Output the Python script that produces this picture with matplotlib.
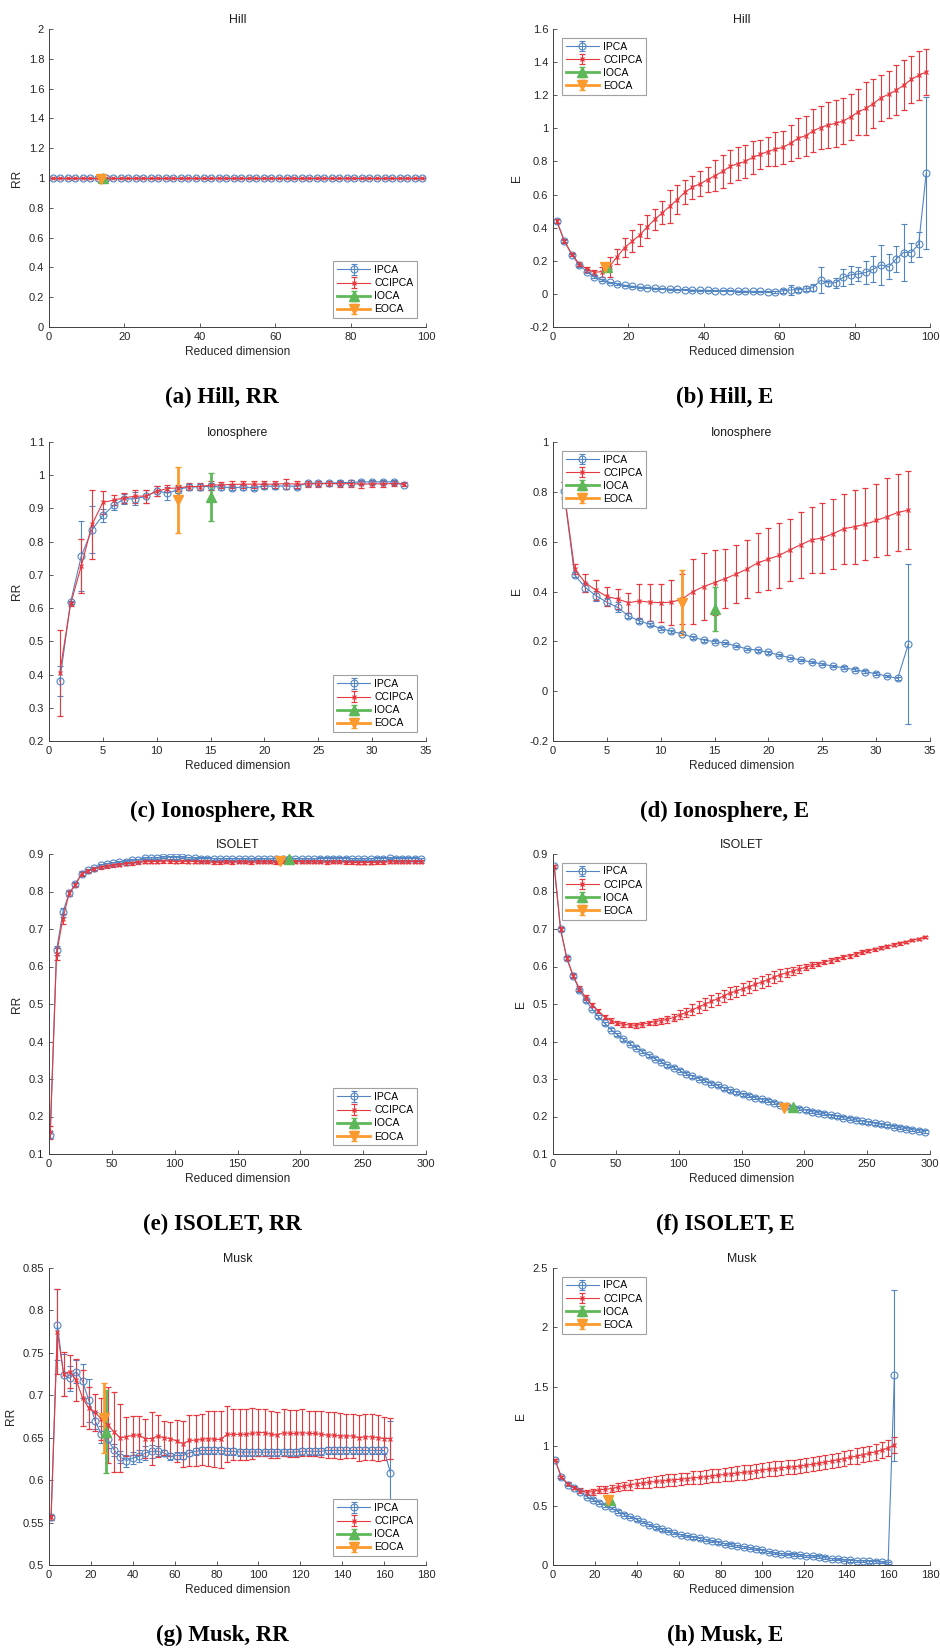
import numpy as np
import matplotlib
matplotlib.use("Agg")
import matplotlib.pyplot as plt
from matplotlib.ticker import FuncFormatter

# ========== Data ==========
# Hill (reduced dimension 1, 3, ..., 99)
hill_x = list(range(1, 100, 2))
hill_rr_ipca = [1.0] * 50
hill_rr_ccipca = [1.0] * 50
hill_rr_err = [0.0] * 50
hill_e_ipca = [0.44, 0.32, 0.235, 0.173, 0.135, 0.104, 0.083, 0.07, 0.06, 0.052,
               0.046, 0.041, 0.037, 0.034, 0.031, 0.029, 0.027, 0.025, 0.023, 0.022,
               0.021, 0.02, 0.019, 0.018, 0.017, 0.016, 0.015, 0.015, 0.014, 0.014,
               0.018, 0.024, 0.025, 0.03, 0.038, 0.083, 0.065, 0.068, 0.1, 0.115,
               0.12, 0.13, 0.15, 0.175, 0.163, 0.21, 0.25, 0.25, 0.3, 0.73]
hill_e_ipca_err = [0.01, 0.008, 0.008, 0.008, 0.008, 0.006, 0.005, 0.004, 0.004, 0.003,
                   0.003, 0.003, 0.003, 0.003, 0.003, 0.003, 0.003, 0.003, 0.003, 0.003,
                   0.003, 0.003, 0.003, 0.003, 0.003, 0.003, 0.003, 0.003, 0.005, 0.006,
                   0.012, 0.03, 0.012, 0.015, 0.02, 0.08, 0.015, 0.03, 0.05, 0.055,
                   0.04, 0.07, 0.08, 0.12, 0.075, 0.08, 0.17, 0.06, 0.075, 0.46]
hill_e_ccipca = [0.44, 0.32, 0.24, 0.18, 0.15, 0.13, 0.135, 0.165, 0.225, 0.28,
                 0.318, 0.355, 0.405, 0.45, 0.49, 0.53, 0.57, 0.615, 0.645, 0.665,
                 0.69, 0.715, 0.74, 0.77, 0.787, 0.8, 0.825, 0.842, 0.86, 0.875,
                 0.885, 0.91, 0.94, 0.955, 0.985, 1.005, 1.02, 1.03, 1.045, 1.07,
                 1.1, 1.12, 1.15, 1.185, 1.205, 1.23, 1.26, 1.295, 1.32, 1.34]
hill_e_ccipca_err = [0.01, 0.01, 0.01, 0.01, 0.015, 0.015, 0.03, 0.06, 0.045, 0.06,
                     0.065, 0.065, 0.07, 0.065, 0.07, 0.1, 0.085, 0.07, 0.07, 0.075,
                     0.075, 0.095, 0.1, 0.1, 0.1, 0.1, 0.1, 0.09, 0.09, 0.1,
                     0.1, 0.11, 0.12, 0.12, 0.13, 0.13, 0.14, 0.14, 0.14, 0.14,
                     0.14, 0.16, 0.15, 0.14, 0.14, 0.15, 0.15, 0.14, 0.15, 0.14]
hill_ioca = (14.4, 1.0, 0.0, 0.16, 0.02)    # x, RR, RR err, E, E err
hill_eoca = (13.9, 0.995, 0.0, 0.16, 0.02)

# Ionosphere (1..33)
ion_x = list(range(1, 34))
ion_rr_ipca = [0.38, 0.617, 0.757, 0.836, 0.879, 0.909, 0.929, 0.929, 0.936, 0.953, 0.946,
               0.957, 0.965, 0.965, 0.967, 0.964, 0.963, 0.964, 0.963, 0.967, 0.967, 0.968,
               0.966, 0.976, 0.976, 0.976, 0.978, 0.978, 0.98, 0.98, 0.98, 0.98, 0.972]
ion_rr_ipca_err = [0.045, 0.005, 0.105, 0.07, 0.02, 0.015, 0.015, 0.02, 0.02, 0.015, 0.02,
                   0.012, 0.01, 0.008, 0.01, 0.008, 0.008, 0.008, 0.008, 0.008, 0.008, 0.008,
                   0.008, 0.008, 0.008, 0.008, 0.008, 0.008, 0.005, 0.005, 0.005, 0.005, 0.005]
ion_rr_ccipca = [0.405, 0.612, 0.727, 0.852, 0.918, 0.925, 0.932, 0.937, 0.937, 0.952, 0.96,
                 0.962, 0.966, 0.966, 0.97, 0.971, 0.972, 0.973, 0.973, 0.973, 0.973, 0.975,
                 0.973, 0.974, 0.974, 0.975, 0.974, 0.975, 0.973, 0.974, 0.974, 0.975, 0.973]
ion_rr_ccipca_err = [0.13, 0.005, 0.082, 0.105, 0.035, 0.015, 0.015, 0.02, 0.02, 0.015, 0.01,
                     0.01, 0.01, 0.01, 0.013, 0.01, 0.01, 0.01, 0.01, 0.01, 0.01, 0.015,
                     0.01, 0.008, 0.008, 0.008, 0.01, 0.01, 0.01, 0.008, 0.008, 0.008, 0.006]
ion_e_ipca = [0.805, 0.467, 0.416, 0.383, 0.357, 0.336, 0.302, 0.282, 0.268, 0.251, 0.24,
              0.23, 0.216, 0.205, 0.199, 0.193, 0.181, 0.17, 0.164, 0.156, 0.145, 0.134,
              0.125, 0.117, 0.109, 0.1, 0.094, 0.086, 0.078, 0.07, 0.06, 0.051, 0.19]
ion_e_ipca_err = [0.035, 0.01, 0.02, 0.02, 0.015, 0.02, 0.01, 0.008, 0.006, 0.006, 0.006,
                  0.006, 0.006, 0.006, 0.006, 0.005, 0.005, 0.005, 0.005, 0.005, 0.005, 0.005,
                  0.005, 0.005, 0.005, 0.005, 0.005, 0.005, 0.005, 0.005, 0.005, 0.005, 0.32]
ion_e_ccipca = [0.81, 0.49, 0.435, 0.405, 0.38, 0.37, 0.355, 0.362, 0.357, 0.355, 0.357,
                0.37, 0.4, 0.42, 0.436, 0.452, 0.47, 0.49, 0.515, 0.53, 0.545, 0.567,
                0.588, 0.607, 0.615, 0.632, 0.652, 0.66, 0.67, 0.685, 0.7, 0.717, 0.727]
ion_e_ccipca_err = [0.03, 0.02, 0.035, 0.04, 0.04, 0.04, 0.04, 0.07, 0.075, 0.077, 0.09,
                    0.1, 0.13, 0.135, 0.13, 0.12, 0.115, 0.115, 0.118, 0.123, 0.13, 0.125,
                    0.133, 0.133, 0.14, 0.14, 0.14, 0.148, 0.145, 0.145, 0.155, 0.155, 0.157]
ion_ioca = (15, 0.935, 0.072, 0.33, 0.088)
ion_eoca = (12, 0.926, 0.1, 0.355, 0.13)

# ISOLET (1, 6, ..., 296)
iso_x = list(range(1, 300, 5))
iso_rr_ipca = [0.152, 0.643, 0.745, 0.795, 0.82, 0.848, 0.857, 0.862, 0.87, 0.874,
               0.877, 0.878, 0.88, 0.883, 0.885, 0.889, 0.89, 0.889, 0.892, 0.891,
               0.891, 0.892, 0.89, 0.889, 0.888, 0.888, 0.887, 0.887, 0.887, 0.887,
               0.887, 0.887, 0.887, 0.886, 0.887, 0.887, 0.887, 0.887, 0.887, 0.887,
               0.887, 0.887, 0.887, 0.888, 0.888, 0.888, 0.888, 0.888, 0.887, 0.887,
               0.887, 0.887, 0.888, 0.888, 0.889, 0.888, 0.888, 0.888, 0.888, 0.887]
iso_rr_ipca_err = [0.01, 0.012, 0.012, 0.006, 0.005, 0.004, 0.004, 0.004, 0.003, 0.003,
                   0.003, 0.003, 0.003, 0.003, 0.003, 0.003, 0.003, 0.003, 0.003, 0.003,
                   0.003, 0.003, 0.003, 0.003, 0.003, 0.003, 0.003, 0.003, 0.003, 0.003,
                   0.003, 0.003, 0.003, 0.003, 0.003, 0.003, 0.003, 0.003, 0.003, 0.003,
                   0.003, 0.003, 0.003, 0.003, 0.003, 0.003, 0.003, 0.003, 0.003, 0.003,
                   0.003, 0.003, 0.003, 0.003, 0.003, 0.003, 0.003, 0.003, 0.003, 0.003]
iso_rr_ccipca = [0.158, 0.633, 0.727, 0.795, 0.818, 0.848, 0.855, 0.86, 0.865, 0.867,
                 0.87, 0.872, 0.874, 0.876, 0.878, 0.879, 0.88, 0.88, 0.881, 0.881,
                 0.88, 0.881, 0.88, 0.88, 0.879, 0.879, 0.878, 0.878, 0.879, 0.878,
                 0.879, 0.879, 0.878, 0.879, 0.879, 0.879, 0.878, 0.88, 0.879, 0.879,
                 0.88, 0.879, 0.879, 0.879, 0.878, 0.879, 0.879, 0.878, 0.878, 0.877,
                 0.877, 0.877, 0.878, 0.878, 0.879, 0.879, 0.879, 0.879, 0.88, 0.88]
iso_rr_ccipca_err = [0.018, 0.016, 0.013, 0.008, 0.006, 0.006, 0.005, 0.005, 0.004, 0.004,
                     0.004, 0.004, 0.004, 0.004, 0.004, 0.004, 0.004, 0.004, 0.004, 0.004,
                     0.004, 0.004, 0.004, 0.004, 0.004, 0.004, 0.004, 0.004, 0.004, 0.004,
                     0.004, 0.004, 0.004, 0.004, 0.004, 0.004, 0.004, 0.004, 0.004, 0.004,
                     0.004, 0.004, 0.004, 0.004, 0.004, 0.004, 0.004, 0.004, 0.004, 0.004,
                     0.004, 0.004, 0.004, 0.004, 0.004, 0.004, 0.004, 0.004, 0.004, 0.004]
iso_e_ipca = [0.867, 0.7, 0.622, 0.575, 0.537, 0.51, 0.487, 0.467, 0.449, 0.432,
              0.419, 0.406, 0.394, 0.383, 0.373, 0.364, 0.354, 0.346, 0.337, 0.33,
              0.322, 0.314, 0.308, 0.301, 0.295, 0.288, 0.283, 0.276, 0.27, 0.265,
              0.259, 0.255, 0.25, 0.246, 0.242, 0.237, 0.232, 0.228, 0.224, 0.221,
              0.217, 0.213, 0.21, 0.207, 0.203, 0.201, 0.197, 0.194, 0.191, 0.188,
              0.185, 0.182, 0.179, 0.177, 0.173, 0.17, 0.168, 0.165, 0.162, 0.16]
iso_e_ipca_err = [0.004, 0.004, 0.004, 0.004, 0.004, 0.004, 0.004, 0.004, 0.004, 0.004,
                  0.004, 0.004, 0.004, 0.004, 0.004, 0.004, 0.004, 0.004, 0.004, 0.004,
                  0.004, 0.004, 0.004, 0.004, 0.004, 0.004, 0.004, 0.004, 0.004, 0.004,
                  0.004, 0.004, 0.004, 0.004, 0.004, 0.004, 0.004, 0.004, 0.004, 0.004,
                  0.004, 0.004, 0.004, 0.004, 0.004, 0.004, 0.004, 0.004, 0.004, 0.004,
                  0.004, 0.004, 0.004, 0.004, 0.004, 0.004, 0.004, 0.004, 0.004, 0.004]
iso_e_ccipca = [0.867, 0.7, 0.622, 0.576, 0.541, 0.518, 0.497, 0.481, 0.466, 0.456,
                0.449, 0.446, 0.444, 0.443, 0.446, 0.449, 0.453, 0.456, 0.459, 0.464,
                0.471, 0.477, 0.485, 0.492, 0.5, 0.507, 0.514, 0.522, 0.53, 0.534,
                0.541, 0.546, 0.553, 0.558, 0.565, 0.572, 0.578, 0.583, 0.588, 0.593,
                0.598, 0.603, 0.607, 0.612, 0.616, 0.621, 0.625, 0.629, 0.634, 0.638,
                0.642, 0.646, 0.65, 0.654, 0.658, 0.662, 0.666, 0.67, 0.674, 0.678]
iso_e_ccipca_err = [0.004, 0.005, 0.005, 0.006, 0.006, 0.006, 0.006, 0.006, 0.006, 0.006,
                    0.006, 0.006, 0.006, 0.006, 0.006, 0.006, 0.008, 0.008, 0.01, 0.01,
                    0.012, 0.012, 0.014, 0.015, 0.015, 0.016, 0.016, 0.016, 0.016, 0.015,
                    0.016, 0.016, 0.016, 0.016, 0.016, 0.016, 0.016, 0.012, 0.01, 0.01,
                    0.008, 0.008, 0.006, 0.006, 0.006, 0.005, 0.005, 0.005, 0.005, 0.005,
                    0.004, 0.004, 0.004, 0.004, 0.004, 0.004, 0.003, 0.003, 0.003, 0.003]
iso_ioca = (191, 0.887, 0.002, 0.225, 0.002)
iso_eoca = (184, 0.882, 0.002, 0.224, 0.002)

# Musk (1, 4, ..., 163)
musk_x = list(range(1, 164, 3))
musk_rr_ipca = [0.556, 0.783, 0.724, 0.72, 0.728, 0.717, 0.694, 0.67, 0.654, 0.648,
                0.636, 0.627, 0.623, 0.626, 0.628, 0.632, 0.634, 0.634, 0.632, 0.628,
                0.629, 0.629, 0.632, 0.634, 0.635, 0.635, 0.635, 0.635, 0.634, 0.634,
                0.633, 0.633, 0.633, 0.633, 0.633, 0.633, 0.633, 0.633, 0.633, 0.633,
                0.634, 0.634, 0.634, 0.634, 0.635, 0.635, 0.635, 0.635, 0.635, 0.635,
                0.635, 0.635, 0.635, 0.635, 0.609]
musk_rr_ipca_err = [0.003, 0.042, 0.025, 0.015, 0.013, 0.02, 0.025, 0.01, 0.01, 0.01,
                    0.007, 0.007, 0.007, 0.007, 0.007, 0.008, 0.008, 0.006, 0.004, 0.004,
                    0.004, 0.004, 0.004, 0.004, 0.004, 0.004, 0.004, 0.004, 0.004, 0.004,
                    0.004, 0.004, 0.004, 0.004, 0.004, 0.004, 0.004, 0.004, 0.004, 0.004,
                    0.004, 0.004, 0.004, 0.004, 0.004, 0.004, 0.004, 0.004, 0.004, 0.004,
                    0.004, 0.004, 0.004, 0.004, 0.061]
musk_rr_ccipca = [0.556, 0.775, 0.725, 0.728, 0.718, 0.697, 0.685, 0.68, 0.672, 0.665,
                  0.657, 0.65, 0.651, 0.653, 0.653, 0.649, 0.649, 0.652, 0.65, 0.649,
                  0.646, 0.643, 0.647, 0.647, 0.648, 0.649, 0.648, 0.648, 0.654, 0.654,
                  0.654, 0.654, 0.655, 0.656, 0.656, 0.654, 0.653, 0.656, 0.655, 0.655,
                  0.656, 0.655, 0.655, 0.654, 0.653, 0.653, 0.652, 0.652, 0.652, 0.65,
                  0.651, 0.651, 0.65, 0.649, 0.649]
musk_rr_ccipca_err = [0.003, 0.05, 0.026, 0.02, 0.025, 0.033, 0.025, 0.022, 0.025, 0.045,
                      0.047, 0.04, 0.023, 0.023, 0.023, 0.023, 0.031, 0.025, 0.02, 0.02,
                      0.025, 0.027, 0.03, 0.03, 0.03, 0.032, 0.033, 0.034, 0.033, 0.03,
                      0.03, 0.03, 0.03, 0.028, 0.028, 0.028, 0.027, 0.028, 0.028, 0.028,
                      0.028, 0.027, 0.027, 0.027, 0.027, 0.027, 0.027, 0.026, 0.026, 0.027,
                      0.027, 0.027, 0.027, 0.025, 0.024]
musk_e_ipca = [0.884, 0.738, 0.677, 0.649, 0.613, 0.576, 0.551, 0.526, 0.5, 0.478,
               0.45, 0.425, 0.406, 0.383, 0.361, 0.338, 0.316, 0.299, 0.285, 0.269,
               0.255, 0.243, 0.232, 0.224, 0.213, 0.201, 0.19, 0.179, 0.171, 0.162,
               0.154, 0.145, 0.134, 0.123, 0.112, 0.101, 0.095, 0.09, 0.087, 0.084,
               0.078, 0.076, 0.07, 0.062, 0.053, 0.048, 0.042, 0.039, 0.036, 0.034,
               0.031, 0.028, 0.025, 0.017, 1.597]
musk_e_ipca_err = [0.01, 0.01, 0.01, 0.01, 0.01, 0.01, 0.01, 0.01, 0.01, 0.01,
                   0.01, 0.01, 0.01, 0.01, 0.01, 0.01, 0.01, 0.01, 0.01, 0.01,
                   0.01, 0.01, 0.01, 0.01, 0.01, 0.01, 0.01, 0.01, 0.01, 0.01,
                   0.01, 0.01, 0.01, 0.01, 0.01, 0.01, 0.01, 0.01, 0.01, 0.01,
                   0.01, 0.01, 0.01, 0.01, 0.01, 0.01, 0.01, 0.01, 0.01, 0.01,
                   0.01, 0.01, 0.01, 0.01, 0.72]
musk_e_ccipca = [0.884, 0.74, 0.686, 0.652, 0.627, 0.612, 0.617, 0.632, 0.638, 0.643,
                 0.655, 0.664, 0.675, 0.684, 0.69, 0.697, 0.703, 0.708, 0.712, 0.718,
                 0.722, 0.728, 0.733, 0.737, 0.743, 0.75, 0.755, 0.762, 0.768, 0.774,
                 0.779, 0.785, 0.792, 0.8, 0.806, 0.812, 0.818, 0.822, 0.826, 0.833,
                 0.84, 0.848, 0.856, 0.866, 0.875, 0.885, 0.896, 0.906, 0.917, 0.928,
                 0.94, 0.953, 0.967, 0.985, 1.01]
musk_e_ccipca_err = [0.01, 0.01, 0.015, 0.015, 0.02, 0.02, 0.025, 0.03, 0.03, 0.03,
                     0.035, 0.035, 0.04, 0.04, 0.045, 0.045, 0.045, 0.05, 0.05, 0.05,
                     0.05, 0.05, 0.055, 0.055, 0.055, 0.055, 0.055, 0.055, 0.06, 0.06,
                     0.06, 0.06, 0.06, 0.06, 0.06, 0.06, 0.06, 0.06, 0.06, 0.06,
                     0.06, 0.06, 0.06, 0.06, 0.06, 0.06, 0.06, 0.06, 0.065, 0.065,
                     0.065, 0.065, 0.065, 0.07, 0.07]
musk_ioca = (27.3, 0.657, 0.049, 0.55, 0.02)
musk_eoca = (26.3, 0.673, 0.041, 0.545, 0.02)

# ========== Style ==========
BLUE = "#5285c2"
RED = "#e8383f"
GREEN = "#5eb85a"
ORANGE = "#fb9a2e"
AX_COLOR = "#404040"

plt.rcParams["font.family"] = ["Liberation Sans", "DejaVu Sans"]
plt.rcParams["axes.unicode_minus"] = False

W, H = 940, 1648
fig = plt.figure(figsize=(W / 100, H / 100), dpi=100)

col_x = [(49, 426), (553, 930)]
row_y = [(29, 327), (442, 741), (854, 1154), (1268, 1565)]


def make_ax(col, row):
    (l, r), (t, b) = col_x[col], row_y[row]
    return fig.add_axes([l / W, 1 - b / H, (r - l) / W, (b - t) / H])


def style_ax(ax, title, ylabel, xlim, xstep, ylim, ystep):
    ax.set_xlim(*xlim)
    ax.set_ylim(*ylim)
    ax.set_xticks(np.round(np.arange(xlim[0], xlim[1] + xstep / 2, xstep), 6))
    ax.set_yticks(np.round(np.arange(ylim[0], ylim[1] + ystep / 2, ystep), 6))
    fmt = FuncFormatter(lambda v, p: f"{v:g}")
    ax.xaxis.set_major_formatter(fmt)
    ax.yaxis.set_major_formatter(fmt)
    for s in ["top", "right"]:
        ax.spines[s].set_visible(False)
    for s in ["left", "bottom"]:
        ax.spines[s].set_color(AX_COLOR)
        ax.spines[s].set_linewidth(0.7)
    ax.tick_params(direction="in", length=3, width=0.6, colors=AX_COLOR,
                   labelsize=8, labelcolor="#262626")
    ax.set_title(title, fontsize=8.8, color="#1a1a1a", pad=4)
    ax.set_xlabel("Reduced dimension", fontsize=8.6, color="#262626", labelpad=3)
    ax.set_ylabel(ylabel, fontsize=8.6, color="#262626", labelpad=4)


def draw(ax, x, ipca, ipca_err, cc, cc_err, io, io_err, eo, eo_err, loc):
    ax.errorbar(x, ipca, yerr=ipca_err, color=BLUE, marker="o", mfc="none", ms=5,
                mew=0.8, lw=0.8, elinewidth=0.8, capsize=2.4, label="IPCA")
    ax.errorbar(x, cc, yerr=cc_err, color=RED, marker="x", ms=3.4, mew=0.9,
                lw=0.8, elinewidth=0.8, capsize=2.4, label="CCIPCA")
    ax.errorbar([io[0]], [io[1]], yerr=[io_err], color=GREEN, marker="^", ms=7.5,
                lw=2, elinewidth=2, capsize=2.4, label="IOCA")
    ax.errorbar([eo[0]], [eo[1]], yerr=[eo_err], color=ORANGE, marker="v", ms=7.5,
                lw=2, elinewidth=2, capsize=2.4, label="EOCA")
    leg = ax.legend(loc=loc, fontsize=7.5, handlelength=3.2, handletextpad=0.4,
                    labelspacing=0.3, borderpad=0.35, borderaxespad=0.85,
                    fancybox=False, framealpha=1)
    leg.get_frame().set_edgecolor("#a0a0a0")
    leg.get_frame().set_linewidth(0.8)


# ========== Panels ==========
panels = [
    # (col, row, title, ylabel, x, ipca, ipca_err, cc, cc_err, io, eo, which, xlim, xstep, ylim, ystep)
    (0, 0, "Hill", "RR", hill_x, hill_rr_ipca, hill_rr_err, hill_rr_ccipca, hill_rr_err,
     hill_ioca, hill_eoca, "RR", (0, 100), 20, (0, 2), 0.2),
    (1, 0, "Hill", "E", hill_x, hill_e_ipca, hill_e_ipca_err, hill_e_ccipca, hill_e_ccipca_err,
     hill_ioca, hill_eoca, "E", (0, 100), 20, (-0.2, 1.6), 0.2),
    (0, 1, "Ionosphere", "RR", ion_x, ion_rr_ipca, ion_rr_ipca_err, ion_rr_ccipca,
     ion_rr_ccipca_err, ion_ioca, ion_eoca, "RR", (0, 35), 5, (0.2, 1.1), 0.1),
    (1, 1, "Ionosphere", "E", ion_x, ion_e_ipca, ion_e_ipca_err, ion_e_ccipca,
     ion_e_ccipca_err, ion_ioca, ion_eoca, "E", (0, 35), 5, (-0.2, 1.0), 0.2),
    (0, 2, "ISOLET", "RR", iso_x, iso_rr_ipca, iso_rr_ipca_err, iso_rr_ccipca,
     iso_rr_ccipca_err, iso_ioca, iso_eoca, "RR", (0, 300), 50, (0.1, 0.9), 0.1),
    (1, 2, "ISOLET", "E", iso_x, iso_e_ipca, iso_e_ipca_err, iso_e_ccipca,
     iso_e_ccipca_err, iso_ioca, iso_eoca, "E", (0, 300), 50, (0.1, 0.9), 0.1),
    (0, 3, "Musk", "RR", musk_x, musk_rr_ipca, musk_rr_ipca_err, musk_rr_ccipca,
     musk_rr_ccipca_err, musk_ioca, musk_eoca, "RR", (0, 180), 20, (0.5, 0.85), 0.05),
    (1, 3, "Musk", "E", musk_x, musk_e_ipca, musk_e_ipca_err, musk_e_ccipca,
     musk_e_ccipca_err, musk_ioca, musk_eoca, "E", (0, 180), 20, (0, 2.5), 0.5),
]

captions = ["(a) Hill, RR", "(b) Hill, E", "(c) Ionosphere, RR", "(d) Ionosphere, E",
            "(e) ISOLET, RR", "(f) ISOLET, E", "(g) Musk, RR", "(h) Musk, E"]
caption_y = [397, 811, 1224, 1635]
caption_x = [222, 725]

for i, p in enumerate(panels):
    col, row, title, ylabel, x, a, ae, c, ce, io, eo, which, xlim, xs, ylim, ys = p
    ax = make_ax(col, row)
    if which == "RR":
        io_pt, io_err = (io[0], io[1]), io[2]
        eo_pt, eo_err = (eo[0], eo[1]), eo[2]
    else:
        io_pt, io_err = (io[0], io[3]), io[4]
        eo_pt, eo_err = (eo[0], eo[3]), eo[4]
    draw(ax, x, a, ae, c, ce, io_pt, io_err, eo_pt, eo_err,
         "lower right" if col == 0 else "upper left")
    style_ax(ax, title, ylabel, xlim, xs, ylim, ys)
    fig.text(caption_x[col] / W, 1 - caption_y[row] / H, captions[i],
             ha="center", va="center", fontsize=16.5, fontweight="bold",
             family=["Liberation Serif", "DejaVu Serif"])

fig.savefig("out.png", dpi=100)
